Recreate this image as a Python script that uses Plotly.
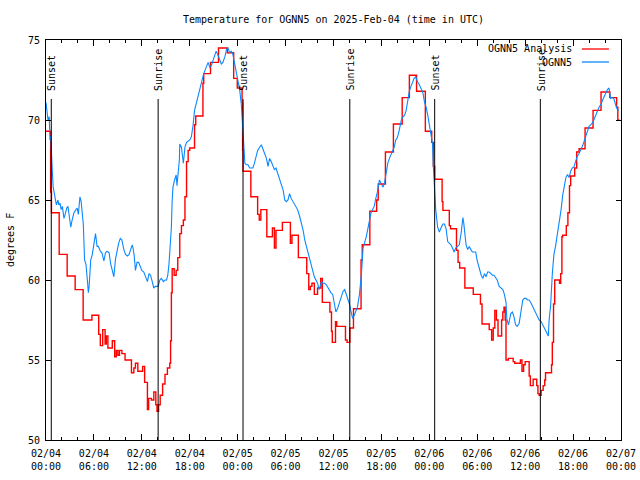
import plotly.graph_objects as go
import pandas as pd

BASE = pd.Timestamp("2025-02-04 00:00")

# Red "OGNN5 Analysis" (step series): hours since 02/04 00:00 UTC, degrees F
red_hours = [0.0, 0.58, 0.68, 1.65, 2.65, 3.65, 4.65, 5.75, 6.6, 6.8, 7.1, 7.4, 7.55, 7.75, 8.3, 8.6,
             8.8, 9.0, 9.2, 9.5, 9.9, 10.7, 11.0, 11.2, 11.5, 12.1, 12.35, 12.7, 12.85, 13.2, 13.5,
             13.75, 13.9, 14.1, 14.3, 14.6, 14.9, 15.2, 15.5, 15.6, 15.7, 15.8, 16.05, 16.3, 16.5,
             16.75, 16.96, 17.2, 17.4, 17.6, 17.8, 18.0, 18.6, 18.75, 19.65, 19.75, 20.6, 21.6, 22.7,
             23.5, 23.95, 24.55, 24.62, 24.67, 25.65, 26.5, 26.7, 26.9, 27.65, 28.35, 28.6, 28.8,
             29.6, 30.6, 30.8, 31.6, 32.65, 32.9, 33.1, 33.3, 33.6, 34.0, 34.4, 34.6, 35.55, 35.75,
             35.85, 36.25, 36.4, 37.5, 37.7, 38.05, 38.5, 39.45, 39.6, 40.55, 41.4, 41.6, 42.5, 43.5,
             44.6, 45.5, 46.4, 47.5, 48.3, 48.5, 48.67, 49.6, 49.7, 50.5, 50.65, 51.4, 51.6, 51.8,
             52.45, 53.5, 54.4, 54.6, 55.5, 55.8, 56.0, 56.2, 56.4, 56.6, 57.05, 57.2, 57.35, 57.5,
             57.6, 57.9, 58.5, 58.7, 59.4, 59.6, 59.8, 60.0, 60.5, 60.65, 61.0, 61.45, 61.6, 61.75,
             62.0, 62.25, 62.45, 62.55, 63.3, 63.4, 63.55, 63.7, 64.3, 64.45, 64.6, 64.7, 65.15,
             65.35, 65.55, 65.7, 66.2, 66.45, 66.75, 67.5, 68.5, 69.5, 70.6, 71.45, 71.6, 71.8]
red_temps = [69.3, 65.5, 64.2, 61.6, 60.25, 59.4, 57.5, 57.8, 56.6, 55.9, 56.9, 56.0, 56.5, 55.75, 56.2, 55.2,
             55.6, 55.3, 55.6, 55.4, 55.0, 54.2, 54.5, 54.8, 54.3, 54.6, 53.6, 51.9, 52.6, 52.5, 53.0,
             52.2, 51.8, 52.2, 52.8, 53.5, 54.1, 54.5, 54.8, 56.2, 59.2, 60.7, 60.3, 60.6, 61.4,
             62.9, 63.4, 63.75, 65.2, 67.4, 68.1, 68.25, 69.7, 70.25, 72.3, 72.9, 73.6, 74.5, 74.2,
             72.6, 72.0, 71.1, 68.1, 66.8, 65.2, 64.1, 63.75, 64.4, 62.7, 63.25, 62.0, 63.1,
             63.6, 62.3, 62.8, 61.4, 60.4, 59.4, 59.6, 59.8, 59.1, 59.5, 60.1, 58.6, 58.0, 56.8,
             56.1, 57.4, 57.1, 56.25, 56.1, 57.0, 58.2, 61.25, 62.2, 64.3, 65.0, 66.0, 68.0, 69.75,
             71.4, 72.8, 71.8, 69.3, 68.6, 67.1, 66.3, 64.9, 64.35, 63.4, 63.2, 61.85, 61.1, 60.75,
             59.5, 59.1, 58.5, 57.25, 56.9, 56.25, 57.0, 58.1, 57.5, 56.5, 57.5, 58.0, 58.3, 57.5,
             55.0, 55.1, 54.9, 54.8, 55.0, 54.3, 54.7, 54.9, 54.0, 53.4, 53.8, 53.4, 52.9, 52.8,
             53.1, 53.4, 53.75, 54.2, 54.7, 56.1, 58.5, 60.0, 59.8, 60.4, 62.7, 62.8, 63.4,
             64.2, 65.9, 66.5, 67.0, 68.0, 68.2, 69.5, 70.6, 71.75, 71.4, 70.8, 70.0, 70.0]

# Blue "OGNN5" (observations)
blue_hours = [0.0, 0.1, 0.25, 0.4, 0.5, 0.6, 0.67, 0.79, 0.9, 1.1, 1.3, 1.5, 1.6, 1.75, 1.9, 2.05, 2.25,
              2.4, 2.6, 2.75, 2.9, 3.1, 3.25, 3.35, 3.5, 3.75, 3.9, 4.05, 4.25, 4.4, 4.67, 4.83, 5.0,
              5.2, 5.3, 5.4, 5.6, 5.8, 6.0, 6.2, 6.4, 6.55, 6.8, 7.0, 7.25, 7.45, 7.65, 7.9, 8.1, 8.3,
              8.5, 8.7, 8.9, 9.1, 9.3, 9.5, 9.75, 9.96, 10.2, 10.4, 10.6, 10.8, 10.9, 11.05, 11.2,
              11.4, 11.6, 11.8, 12.0, 12.25, 12.5, 12.7, 12.9, 13.1, 13.3, 13.5, 13.7, 13.9, 14.04,
              14.25, 14.45, 14.7, 14.9, 15.1, 15.25, 15.4, 15.6, 15.7, 15.8, 15.9, 16.1, 16.3, 16.4,
              16.5, 16.7, 16.75, 16.96, 17.2, 17.3, 17.4, 17.6, 18.0, 18.2, 18.4, 18.6, 18.8, 19.0,
              19.25, 19.5, 19.7, 19.9, 20.1, 20.3, 20.5, 20.7, 20.9, 21.1, 21.3, 21.5, 21.75, 21.95,
              22.15, 22.4, 22.6, 22.8, 23.0, 23.2, 23.4, 23.6, 23.8, 24.0, 24.25, 24.45, 24.6, 24.67,
              24.9, 25.1, 25.3, 25.5, 25.7, 25.9, 26.1, 26.3, 26.5, 26.75, 26.96, 27.15, 27.35, 27.6,
              27.8, 28.0, 28.2, 28.4, 28.6, 28.8, 29.0, 29.25, 29.45, 29.7, 29.9, 30.1, 30.3, 30.5,
              30.7, 30.9, 31.1, 31.3, 31.5, 31.75, 32.0, 32.2, 32.4, 32.6, 32.8, 33.0, 33.2, 33.4,
              33.6, 33.8, 34.0, 34.2, 34.35, 34.5, 34.7, 34.9, 35.1, 35.3, 35.5, 35.7, 35.9, 36.1,
              36.3, 36.5, 36.75, 37.0, 37.2, 37.4, 37.6, 37.8, 38.0, 38.2, 38.4, 38.6, 38.8, 39.0,
              39.25, 39.5, 39.7, 39.9, 40.1, 40.3, 40.5, 40.7, 40.9, 41.1, 41.3, 41.5, 41.75, 41.95,
              42.2, 42.4, 42.6, 42.8, 43.0, 43.2, 43.4, 43.6, 43.8, 44.0, 44.25, 44.5, 44.7, 44.9,
              45.1, 45.3, 45.5, 45.7, 45.9, 46.1, 46.3, 46.5, 46.75, 47.0, 47.2, 47.4, 47.6, 47.8,
              48.0, 48.2, 48.4, 48.5, 48.6, 48.75, 48.8, 49.04, 49.25, 49.5, 49.7, 49.9, 50.1, 50.3,
              50.5, 50.7, 50.9, 51.1, 51.3, 51.5, 51.75, 52.0, 52.2, 52.3, 52.4, 52.6, 52.8, 53.0,
              53.2, 53.4, 53.6, 53.8, 54.0, 54.25, 54.5, 54.7, 54.9, 55.1, 55.3, 55.5, 55.7, 55.9,
              56.1, 56.3, 56.5, 56.75, 57.0, 57.2, 57.4, 57.6, 57.7, 57.9, 58.0, 58.2, 58.4, 58.6,
              58.8, 59.0, 59.25, 59.5, 59.7, 59.9, 60.1, 60.3, 60.5, 60.7, 60.9, 61.1, 61.3, 61.5,
              61.75, 62.0, 62.2, 62.4, 62.6, 62.8, 62.9, 63.0, 63.2, 63.4, 63.6, 63.8, 64.0, 64.25,
              64.5, 64.7, 64.9, 65.1, 65.3, 65.5, 65.7, 65.9, 66.1, 66.3, 66.5, 66.75, 66.96, 67.2,
              67.4, 67.6, 67.8, 68.0, 68.2, 68.4, 68.6, 68.8, 69.0, 69.25, 69.5, 69.7, 69.9, 70.1,
              70.3, 70.5, 70.6, 70.7, 70.9, 71.1, 71.3, 71.5, 71.75]
blue_temps = [71.1, 70.6, 70.0, 70.2, 68.75, 69.0, 67.7, 66.8, 65.8, 65.1, 64.7, 65.0, 64.7, 64.8, 64.4, 64.6, 63.85,
              64.1, 64.5, 64.6, 63.9, 63.3, 63.7, 63.9, 64.2, 64.4, 64.5, 64.1, 65.2, 64.9, 63.5, 61.25, 61.0,
              59.9, 59.2, 59.6, 61.25, 61.6, 62.4, 62.9, 62.1, 62.1, 61.8, 61.7, 61.2, 61.7, 61.8, 61.7, 61.0, 60.6,
              60.2, 61.3, 61.9, 62.3, 62.6, 62.5, 61.9, 61.6, 61.5, 61.6, 61.9, 62.2, 62.0, 61.5, 60.6,
              61.1, 61.1, 60.8, 60.6, 60.5, 60.2, 59.9, 60.4, 60.3, 59.9, 59.5, 59.6, 59.6, 59.6,
              60.0, 60.1, 59.9, 60.0, 60.0, 60.3, 61.0, 62.3, 63.3, 65.0, 65.8, 66.25, 66.56, 65.9,
              66.4, 67.5, 68.5, 68.3, 67.3, 67.8, 68.3, 68.6, 68.75, 68.95, 69.6, 70.6, 71.0, 71.5,
              71.9, 72.4, 72.8, 73.1, 73.4, 73.6, 73.3, 73.4, 73.7, 73.96, 74.3, 74.1, 73.75, 73.5,
              73.6, 73.96, 74.4, 74.5, 74.2, 74.3, 74.1, 73.6, 73.1, 72.5, 71.9, 71.0, 70.0, 69.3,
              67.3, 67.2, 67.2, 67.0, 67.0, 67.0, 67.3, 67.8, 68.1, 68.3, 68.45, 68.2, 67.9, 67.6,
              67.1, 67.6, 67.4, 67.1, 66.9, 67.0, 66.7, 66.35, 66.1, 65.6, 65.0, 64.9, 65.0, 65.4,
              65.1, 64.9, 64.8, 64.6, 64.4, 64.0, 63.5, 63.1, 62.5, 62.1, 61.7, 61.25, 60.9, 60.6,
              60.2, 60.0, 59.8, 59.4, 59.7, 59.9, 59.8, 59.8, 59.7, 59.5, 59.3, 59.2, 59.1, 58.6,
              58.0, 58.2, 58.6, 59.0, 59.3, 59.4, 59.1, 58.85, 58.5, 58.0, 57.6, 57.8, 58.0, 58.3,
              59.1, 60.4, 62.0, 62.3, 62.7, 63.2, 63.75, 64.2, 64.4, 64.6, 65.1, 65.5, 66.25, 66.0,
              65.8, 66.1, 66.7, 67.3, 67.6, 67.8, 68.1, 68.3, 68.75, 68.9, 69.4, 70.0, 70.2, 70.3,
              70.6, 71.25, 71.8, 72.1, 72.4, 72.6, 72.7, 72.4, 72.2, 71.9, 71.7, 71.1, 70.8, 70.3,
              69.7, 69.1, 68.5, 67.1, 65.8, 65.0, 64.4, 63.3, 63.0, 63.3, 63.5, 63.5, 63.2, 62.4,
              62.3, 62.2, 62.0, 61.75, 62.0, 62.1, 62.2, 63.0, 63.9, 63.6, 63.0, 62.2, 61.9, 62.1,
              61.9, 61.75, 61.75, 61.75, 61.2, 60.7, 60.3, 60.1, 60.4, 60.2, 60.5, 60.5, 60.4, 60.3,
              60.3, 60.1, 60.0, 59.6, 59.5, 59.4, 59.1, 58.6, 57.6, 57.2, 57.4, 57.9, 58.0, 57.7,
              57.2, 57.1, 57.3, 58.1, 58.75, 58.85, 58.85, 58.75, 58.75, 58.6, 58.4, 58.2, 57.9, 57.7,
              57.5, 57.4, 57.2, 57.0, 56.9, 56.6, 56.5, 57.5, 58.5, 60.4, 61.6, 62.1, 62.7, 63.5,
              64.4, 65.3, 65.9, 66.4, 66.6, 66.4, 66.8, 67.0, 67.05, 67.4, 67.7, 67.9, 68.1, 68.4,
              68.7, 69.0, 69.3, 69.6, 69.7, 69.8, 70.0, 70.2, 70.5, 70.8, 71.0, 71.25, 71.5, 71.7,
              71.9, 72.0, 71.6, 71.35, 71.4, 71.35, 71.0, 70.7, 70.6]

# Sunrise / sunset markers
event_hours = [0.66, 14.04, 24.67, 38.04, 48.67, 61.9]
event_labels = ["Sunset", "Sunrise", "Sunset", "Sunrise", "Sunset", "Sunrise"]

# Axis ticks
x_tick_hours = [0, 6, 12, 18, 24, 30, 36, 42, 48, 54, 60, 66, 72]
x_tick_labels = ["02/04<br>00:00", "02/04<br>06:00", "02/04<br>12:00", "02/04<br>18:00",
                 "02/05<br>00:00", "02/05<br>06:00", "02/05<br>12:00", "02/05<br>18:00",
                 "02/06<br>00:00", "02/06<br>06:00", "02/06<br>12:00", "02/06<br>18:00",
                 "02/07<br>00:00"]
y_ticks = [50, 55, 60, 65, 70, 75]

series_names = ["OGNN5 Analysis", "OGNN5"]
series_colors = ["#ff0000", "#0a88ff"]


def to_time(hours):
    return [BASE + pd.Timedelta(hours=h) for h in hours]


FONT = "DejaVu Sans Mono"
FS = 10

fig = go.Figure()
fig.add_trace(go.Scatter(x=to_time(red_hours), y=red_temps, mode="lines", name=series_names[0],
                         line=dict(color=series_colors[0], width=1.4, shape="hv"), showlegend=False))
fig.add_trace(go.Scatter(x=to_time(blue_hours), y=blue_temps, mode="lines", name=series_names[1],
                         line=dict(color=series_colors[1], width=1.1), showlegend=False))

for h, lab in zip(event_hours, event_labels):
    t = BASE + pd.Timedelta(hours=h)
    fig.add_shape(type="line", xref="x", yref="paper", x0=t, x1=t, y0=0, y1=0.8525,
                  line=dict(color="black", width=1))
    fig.add_annotation(x=t, xref="x", y=0.868, yref="paper", text=lab, textangle=-90,
                       showarrow=False, xanchor="center", yanchor="bottom", xshift=1,
                       font=dict(family=FONT, size=FS, color="black"))

# Legend (text right-aligned, sample line to its right)
legend_y = [0.9775, 0.945]
for name, col, ly in zip(series_names, series_colors, legend_y):
    fig.add_annotation(x=0.918, xref="paper", y=ly, yref="paper", text=name, showarrow=False,
                       xanchor="right", yanchor="middle", font=dict(family=FONT, size=FS, color="black"))
    fig.add_shape(type="line", xref="paper", yref="paper", x0=0.932, x1=0.979, y0=ly, y1=ly,
                  line=dict(color=col, width=1.3))

# Y axis title
fig.add_annotation(x=-0.0626, xref="paper", y=0.5, yref="paper", text="degrees F", textangle=-90,
                   showarrow=False, xanchor="center", yanchor="middle",
                   font=dict(family=FONT, size=FS, color="black"))

fig.update_layout(
    width=640, height=480, autosize=False,
    margin=dict(l=46, r=19, t=40, b=40, pad=0),
    paper_bgcolor="white", plot_bgcolor="white",
    font=dict(family=FONT, size=FS, color="black"),
    title=dict(text="Temperature for OGNN5 on 2025-Feb-04 (time in UTC)", x=0.5, xref="paper",
               xanchor="center", y=1 - 19 / 480, yanchor="middle", automargin=False,
               font=dict(family=FONT, size=FS, color="black")),
)
fig.update_xaxes(
    range=[BASE, BASE + pd.Timedelta(hours=72)], automargin=False,
    tickmode="array", tickvals=to_time(x_tick_hours), ticktext=x_tick_labels,
    ticks="inside", ticklen=6, tickcolor="black", tickwidth=1, ticklabelstandoff=4,
    minor=dict(tickmode="linear", tick0=BASE, dtick=2 * 3600 * 1000, ticks="inside",
               ticklen=3, tickcolor="black", showgrid=False),
    showline=True, linecolor="black", linewidth=1, mirror="allticks",
    showgrid=False, zeroline=False, tickfont=dict(family=FONT, size=FS),
)
fig.update_yaxes(
    range=[50, 75], automargin=False, tickmode="array", tickvals=y_ticks,
    ticks="inside", ticklen=5, tickcolor="black", tickwidth=1, ticklabelstandoff=3,
    showline=True, linecolor="black", linewidth=1, mirror="allticks",
    showgrid=False, zeroline=False, tickfont=dict(family=FONT, size=FS),
)

fig.write_html("out.html", config={"displayModeBar": False},
               post_script="document.body.style.margin='0';document.body.style.padding='0';")
